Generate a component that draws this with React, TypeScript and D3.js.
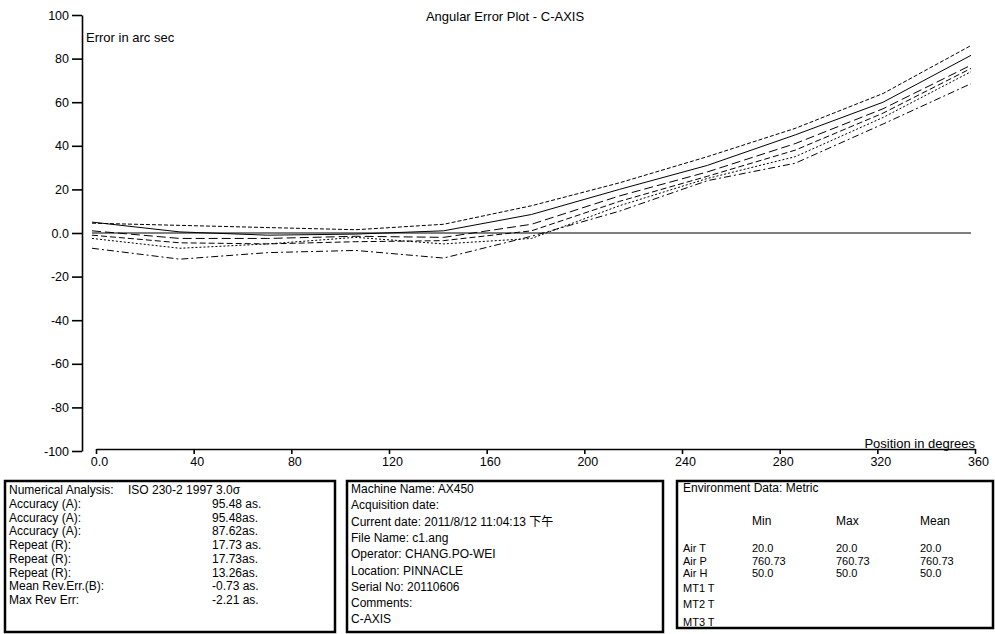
import React, { useEffect, useRef } from "react";
import * as d3 from "d3";

// angle positions (deg) and the six measured runs (arc sec)
const positions = [0, 36, 72, 108, 144, 180, 216, 252, 288, 324, 360];
const run1 = [4.5, 3.5, 2.5, 1.5, 4, 12.5, 23, 35, 48, 64, 86];
const run2 = [5, 0.5, -1, -0.5, 1, 8.5, 20, 31, 45, 60, 81.5];
const run3 = [1, -2.5, -2.5, -1.5, -2, 4, 17, 28, 41, 57, 77];
const run4 = [-1, -4.5, -5, -4, -3.5, 1, 14.5, 26, 38, 55, 75.5];
const run5 = [-2.5, -7, -5, -2, -5, -2.5, 12.5, 25, 35, 53, 74];
const run6 = [-7, -12, -9, -8, -11.5, -1.5, 10, 24, 32, 50, 68.5];
const runs = [run1, run2, run3, run4, run5, run6];
const dashes = ["4,2", "none", "9,4", "6,3", "2,2", "7,3,2,3"];

const xTicks = [0, 40, 80, 120, 160, 200, 240, 280, 320, 360];
const yTicks = [-100, -80, -60, -40, -20, 0, 20, 40, 60, 80, 100];

const numLabels = ["Accuracy (A):", "Accuracy (A):", "Accuracy (A):", "Repeat (R):", "Repeat (R):", "Repeat (R):", "Mean Rev.Err.(B):", "Max Rev Err:"];
const numValues = ["95.48 as.", "95.48as.", "87.62as.", "17.73 as.", "17.73as.", "13.26as.", "-0.73 as.", "-2.21 as."];
const machineInfo = [
  "Machine Name: AX450",
  "Acquisition date:",
  "Current date: 2011/8/12 11:04:13 下午",
  "File Name:  c1.ang",
  "Operator:  CHANG.PO-WEI",
  "Location:  PINNACLE",
  "Serial No:  20110606",
  "Comments:",
  "C-AXIS",
];
const envHeaders = ["Min", "Max", "Mean"];
const envNames = ["Air T", "Air P", "Air H", "MT1 T", "MT2 T", "MT3 T"];
const envMin = ["20.0", "760.73", "50.0", "", "", ""];
const envMax = ["20.0", "760.73", "50.0", "", "", ""];
const envMean = ["20.0", "760.73", "50.0", "", "", ""];

const FONT = "'Liberation Sans', Arial, 'Noto Sans CJK TC', sans-serif";

function draw(el: SVGSVGElement) {
  const svg = d3.select(el);
  svg.selectAll("*").remove();

  const x = d3.scaleLinear().domain([0, 360]).range([96, 975]);
  const y = d3.scaleLinear().domain([-100, 100]).range([451, 15]);

  // y axis
  const ya = svg.append("g").attr("transform", "translate(82,0)")
    .call(d3.axisLeft(y).tickValues(yTicks).tickSize(10).tickSizeOuter(0).tickPadding(3)
      .tickFormat((d: any) => (d === 0 ? "0.0" : String(d))));
  // x axis
  const xa = svg.append("g").attr("transform", "translate(0,449)")
    .call(d3.axisBottom(x).tickValues(xTicks).tickSize(5).tickSizeOuter(0).tickPadding(3)
      .tickFormat((d: any) => (d === 0 ? "0.0" : String(d))));
  [ya, xa].forEach(a => {
    a.attr("font-family", FONT).attr("font-size", 12.5);
    a.selectAll("path, line").attr("stroke", "#000").attr("stroke-width", 1.6);
    a.selectAll("text").attr("fill", "#000");
  });
  xa.selectAll("text").attr("dx", 3);

  // traces, drawn slightly left of the axis ticks as on the print-out
  const plot = svg.append("g").attr("transform", "translate(-4,0)");
  plot.append("line")
    .attr("x1", x(0)).attr("x2", x(360)).attr("y1", y(0)).attr("y2", y(0))
    .attr("stroke", "#000").attr("stroke-width", 1.2);

  const line = d3.line<number>().x((_, i) => x(positions[i])).y(d => y(d));
  plot.selectAll("path.run").data(runs).enter().append("path")
    .attr("class", "run")
    .attr("d", d => line(d))
    .attr("fill", "none")
    .attr("stroke", "#000")
    .attr("stroke-width", 1)
    .attr("stroke-dasharray", (_, i) => dashes[i]);

  svg.append("text").attr("x", 505).attr("y", 21).attr("text-anchor", "middle")
    .attr("font-family", FONT).attr("font-size", 13).text("Angular Error Plot - C-AXIS");
  svg.append("text").attr("x", 86).attr("y", 42)
    .attr("font-family", FONT).attr("font-size", 13).text("Error in arc sec");
  svg.append("text").attr("x", 975).attr("y", 448).attr("text-anchor", "end")
    .attr("font-family", FONT).attr("font-size", 13).text("Position in degrees");

  // info boxes
  const boxes = [
    { x: 5, w: 330, h: 151 },
    { x: 347, w: 316, h: 151 },
    { x: 677, w: 316, h: 147 },
  ];
  const top = 481;
  const defs = svg.append("defs");
  boxes.forEach((b, i) => {
    defs.append("clipPath").attr("id", "clipbox" + i).append("rect")
      .attr("x", b.x).attr("y", top).attr("width", b.w).attr("height", b.h);
  });
  const g1 = svg.append("g").attr("clip-path", "url(#clipbox0)")
    .attr("font-family", FONT).attr("font-size", 12);
  g1.append("text").attr("x", 9).attr("y", 494).text("Numerical Analysis:");
  g1.append("text").attr("x", 128).attr("y", 494).text("ISO 230-2 1997 3.0σ");
  numLabels.forEach((t, i) => {
    g1.append("text").attr("x", 9).attr("y", 508 + i * 13.7).text(t);
    g1.append("text").attr("x", 212).attr("y", 508 + i * 13.7).text(numValues[i]);
  });

  const g2 = svg.append("g").attr("clip-path", "url(#clipbox1)")
    .attr("font-family", FONT).attr("font-size", 12);
  machineInfo.forEach((t, i) => {
    g2.append("text").attr("x", 351).attr("y", 493 + i * 16.3).text(t);
  });

  const g3 = svg.append("g").attr("clip-path", "url(#clipbox2)")
    .attr("font-family", FONT).attr("font-size", 11);
  const cols = [752, 836, 920];
  const envY = [552, 564.5, 577, 592, 608, 626];
  g3.append("text").attr("x", 683).attr("y", 492).attr("font-size", 12).text("Environment Data: Metric");
  envHeaders.forEach((h, i) => g3.append("text").attr("x", cols[i]).attr("y", 525).attr("font-size", 12).text(h));
  envNames.forEach((n, i) => {
    g3.append("text").attr("x", 683).attr("y", envY[i]).text(n);
    [envMin[i], envMax[i], envMean[i]].forEach((v, j) => {
      if (v) g3.append("text").attr("x", cols[j]).attr("y", envY[i]).text(v);
    });
  });

  boxes.forEach(b => {
    svg.append("rect").attr("x", b.x).attr("y", top).attr("width", b.w).attr("height", b.h)
      .attr("fill", "none").attr("stroke", "#000").attr("stroke-width", 2.5);
  });
}

export default function App() {
  const ref = useRef<SVGSVGElement>(null);
  useEffect(() => {
    if (ref.current) draw(ref.current);
  }, []);
  return (
    <svg ref={ref} width={995} height={634}
      style={{ position: "absolute", left: 0, top: 0, background: "#fff" }} />
  );
}
